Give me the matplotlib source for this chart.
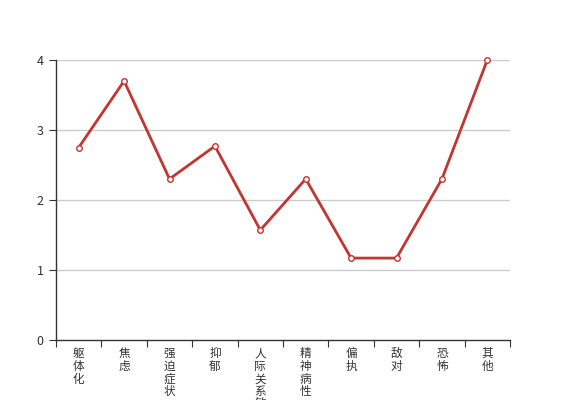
import matplotlib
matplotlib.use("Agg")
import matplotlib.pyplot as plt
import numpy as np

plt.rcParams['font.family'] = ['Noto Sans CJK SC', 'DejaVu Sans']

categories = ["躯体化", "焦虑", "强迫症状", "抑郁", "人际关系敏感", "精神病性", "偏执", "敌对", "恐怖", "其他"]
values = [2.75, 3.70, 2.30, 2.77, 1.57, 2.30, 1.17, 1.17, 2.30, 4.00]
yticks = [0, 1, 2, 3, 4]

fig = plt.figure(figsize=(5.67, 4.0), dpi=100)
ax = fig.add_axes([56/567, 60/400, (510-56)/567, 280/400])

n = len(categories)
x = np.arange(n)
ax.plot(x, values, color='#c23531', lw=2, marker='o', ms=4,
        markerfacecolor='white', markeredgecolor='#c23531', markeredgewidth=1, zorder=3, clip_on=False)

ax.set_xlim(-0.5, n - 0.5)
ax.set_ylim(0, 4)
ax.set_yticks(yticks)
ax.set_yticklabels([str(t) for t in yticks], fontsize=9, color='#333333')
for t in yticks[1:]:
    ax.axhline(t, color='#cccccc', lw=1, zorder=1)

ax.set_xticks(np.arange(-0.5, n, 1.0))
ax.set_xticklabels([])
ax.set_xticks(x, minor=True)
ax.set_xticklabels(["\n".join(c) for c in categories], minor=True, fontsize=8.4,
                   color='#333333', linespacing=0.98, va='top')
ax.tick_params(axis='x', which='minor', length=0, pad=5)
ax.tick_params(axis='x', which='major', length=5, color='#333333', direction='out')
ax.tick_params(axis='y', length=5, color='#333333', pad=4)

for s in ['top', 'right']:
    ax.spines[s].set_visible(False)
for s in ['left', 'bottom']:
    ax.spines[s].set_color('#333333')
    ax.spines[s].set_linewidth(1)

fig.savefig("out.png", dpi=100)
